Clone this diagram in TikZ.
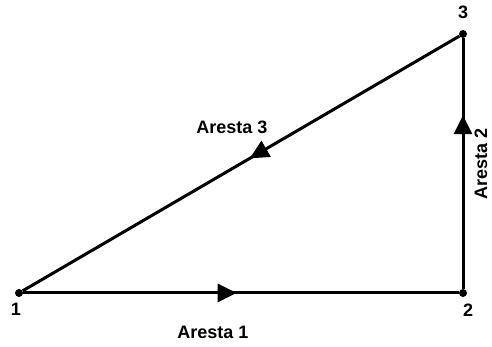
\documentclass[tikz,border=0pt]{standalone}
\usepackage{fontspec}
\setmainfont{Liberation Sans}
\usetikzlibrary{arrows.meta,positioning,decorations.markings}

\begin{document}
\begin{tikzpicture}[x=1pt, y=1pt,
    vertex/.style={circle, fill=black, inner sep=0pt, minimum size=8pt},
    numlabel/.style={inner sep=0pt, font=\fontsize{18}{20}\selectfont\bfseries},
    edgelabel/.style={inner sep=0pt, font=\fontsize{18}{20}\selectfont\bfseries},
    edgeline/.style={line width=3pt},
    flowtip/.style={postaction={decorate}, decoration={markings,
        mark=at position #1 with {\arrow{Triangle[length=19pt,width=18pt]}}}}]
  \useasboundingbox[fill=white] (0,0) rectangle (492,347);
  % vertices
  \node[vertex] (v1) at (19,54) {};
  \node[vertex] (v2) at (463,54) {};
  \node[vertex] (v3) at (463,313) {};
  \node[numlabel, below=6pt of v1, xshift=-3pt] (n1) {1};
  \node[numlabel, below=7pt of v2, xshift=5pt] (n2) {2};
  \node[numlabel, above=11pt of v3] (n3) {3};
  % edges
  \draw[edgeline, flowtip=0.49] (v1) -- (v2);
  \draw[edgeline, flowtip=0.693] (v2) -- (v3);
  \draw[edgeline, flowtip=0.48] (v3) -- (v1);
  \node[edgelabel] (e1) at (213,15) {Aresta 1};
  \node[edgelabel, rotate=90, anchor=base] (e2) at (487,183) {Aresta 2};
  \node[edgelabel] (e3) at (232,220) {Aresta 3};
\end{tikzpicture}
\end{document}
